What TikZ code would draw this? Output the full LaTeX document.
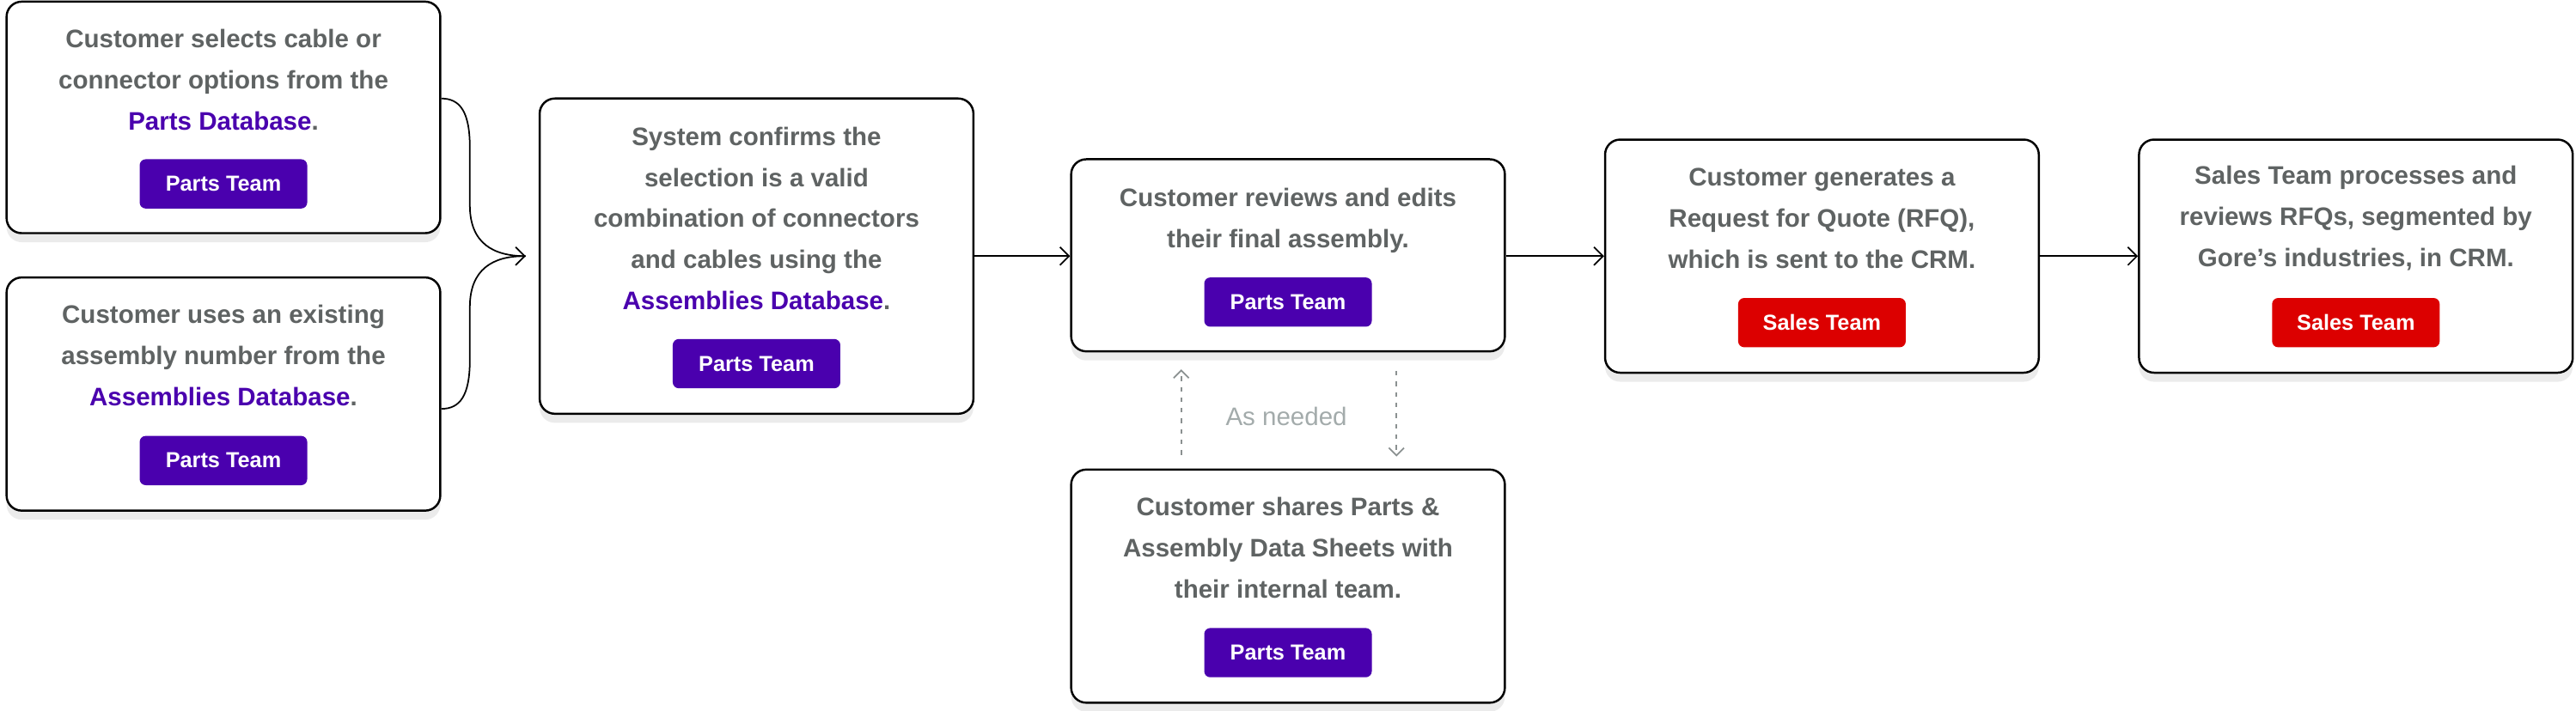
\documentclass[tikz,border=0pt]{standalone}
\usepackage{fontspec}
\setmainfont{Liberation Sans}
\usetikzlibrary{arrows.meta,shadows}
\definecolor{txt}{HTML}{5F6363}
\definecolor{purp}{HTML}{4A00AE}
\definecolor{rd}{HTML}{DC0000}
\definecolor{soft}{HTML}{A3ABAB}
\begin{document}
\begin{tikzpicture}[x=0.01912cm,y=-0.01912cm,
  box/.style={draw=black,line width=0.7pt,rounded corners=5pt,fill=white,minimum width=264*0.01912cm,inner sep=0,
    drop shadow={shadow xshift=0pt,shadow yshift=-3pt,fill=black!8,opacity=1}},
  body/.style={text=txt,font=\bfseries\fontsize{8.4}{13.6}\selectfont,align=center,inner sep=0},
  btn/.style={fill=#1,rounded corners=2pt,text=white,font=\bfseries\fontsize{7.2}{8}\selectfont,minimum width=102*0.01912cm,minimum height=30*0.01912cm,inner sep=0},
  arr/.style={-{Straight Barb[length=3pt,width=6pt]},line width=0.5pt},
  dot/.style={-{Straight Barb[length=2.5pt,width=5pt]},line width=0.5pt,draw=soft!85!black,dash pattern=on 1.5pt off 2pt}]
\useasboundingbox (0,0) rectangle (1568,433);
\newcommand{\hl}[1]{\textcolor{purp}{#1}}
% boxes
\node[box,minimum height=141*0.01912cm] (A) at (136,71.5) {};
\node[box,minimum height=142*0.01912cm] (B) at (136,240) {};
\node[box,minimum height=192*0.01912cm] (C) at (460.5,156) {};
\node[box,minimum height=117*0.01912cm] (D) at (784,155.5) {};
\node[box,minimum height=142*0.01912cm] (E) at (1109,156) {};
\node[box,minimum height=142*0.01912cm] (F) at (1434,156) {};
\node[box,minimum height=142*0.01912cm] (G) at (784,357) {};
% texts
\node[body] (At) at (136,48.5) {Customer selects cable or\\connector options from the\\\hl{Parts Database}.};
\node[btn=purp] (Ab) at (136,112) {Parts Team};
\node[body] (Bt) at (136,216.5) {Customer uses an existing\\assembly number from the\\\hl{Assemblies Database}.};
\node[btn=purp] (Bb) at (136,280.5) {Parts Team};
\node[body] (Ct) at (460.5,133) {System confirms the\\selection is a valid\\combination of connectors\\and cables using the\\\hl{Assemblies Database}.};
\node[btn=purp] (Cb) at (460.5,221.5) {Parts Team};
\node[body] (Dt) at (784,134.5) {Customer reviews and edits\\their final assembly.};
\node[btn=purp] (Db) at (784,184) {Parts Team};
\node[body] (Et) at (1109,133) {Customer generates a\\Request for Quote (RFQ),\\which is sent to the CRM.};
\node[btn=rd] (Eb) at (1109,196.5) {Sales Team};
\node[body] (Ft) at (1434,133) {Sales Team processes and\\reviews RFQs, segmented by\\Gore's industries, in CRM.};
\node[btn=rd] (Fb) at (1434,196.5) {Sales Team};
\node[body] (Gt) at (784,333.5) {Customer shares Parts \&\\Assembly Data Sheets with\\their internal team.};
\node[btn=purp] (Gb) at (784,397.5) {Parts Team};
\node[text=soft,font=\fontsize{8.4}{10}\selectfont,inner sep=0] (note) at (783,253.5) {As needed};
% connectors
\coordinate (m) at (320,156);
\draw[line width=0.5pt] (A.east |- 0,60) .. controls (280,60) and (286,68) .. (286,90) -- (286,125) .. controls (286,148) and (300,156) .. (m);
\draw[arr] (B.east |- 0,249) .. controls (280,249) and (286,241) .. (286,219) -- (286,187) .. controls (286,164) and (300,156) .. (m);
\draw[arr] (C.east |- 0,156) -- (D.west |- 0,156);
\draw[arr] (D.east |- 0,156) -- (E.west |- 0,156);
\draw[arr] (E.east |- 0,156) -- (F.west |- 0,156);
\draw[dot] (719,277) -- (719,225);
\draw[dot] (850,226) -- (850,278);
\end{tikzpicture}
\end{document}
